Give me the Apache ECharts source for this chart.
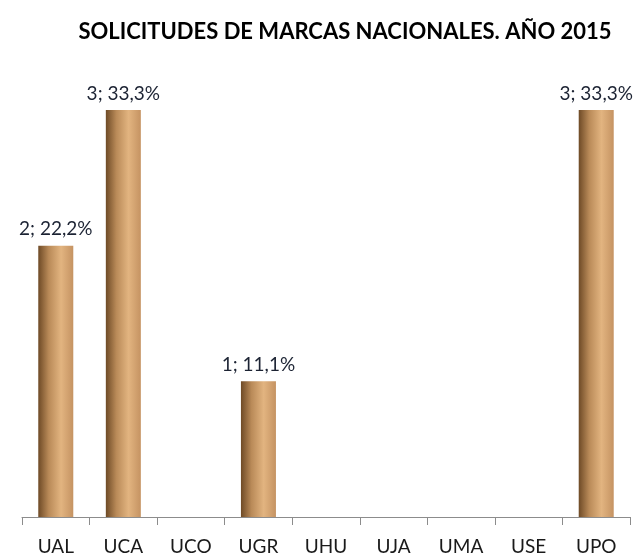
<!DOCTYPE html>
<html>
<head>
<meta charset="utf-8">
<script src="https://cdn.jsdelivr.net/npm/echarts@6/dist/echarts.min.js"></script>
<style>
    html, body { margin: 0; padding: 0; background: #fff; }
    #chart { width: 636px; height: 556px; }
</style>
</head>
<body>
<div id="chart"></div>
<script>
// universidades
const categories = ['UAL', 'UCA', 'UCO', 'UGR', 'UHU', 'UJA', 'UMA', 'USE', 'UPO']
// nº de solicitudes
const solicitudes = [2, 3, 0, 1, 0, 0, 0, 0, 3]
// porcentaje sobre el total
const porcentajes = ['22,2%', '33,3%', '', '11,1%', '', '', '', '', '33,3%']

const myChart = echarts.init(document.getElementById('chart'))

myChart.setOption({
    animation: false,
    title: {
        text: 'SOLICITUDES DE MARCAS NACIONALES. AÑO 2015',
        left: 340,
        textAlign: 'center',
        top: 16,
        textStyle: {
            fontFamily: 'Lato',
            fontWeight: 'bold',
            fontSize: 22,
            color: '#000'
        }
    },
    grid: {
        left: 22,
        right: 6,
        top: 110,
        bottom: 39
    },
    xAxis: {
        type: 'category',
        data: categories,
        axisLine: {
            lineStyle: { color: '#8c8c8c', width: 1 }
        },
        axisTick: {
            show: true,
            length: 8,
            lineStyle: { color: '#8c8c8c' }
        },
        axisLabel: {
            margin: 20,
            fontFamily: 'Lato',
            fontSize: 19,
            color: '#1a1a1a'
        }
    },
    yAxis: {
        type: 'value',
        min: 0,
        max: 3,
        show: false,
        splitLine: { show: false }
    },
    series: [{
        type: 'bar',
        data: solicitudes,
        barWidth: 35,
        itemStyle: {
            // efecto cilindro
            color: new echarts.graphic.LinearGradient(0, 0, 1, 0, [
                { offset: 0, color: '#6e4a26' },
                { offset: 0.3, color: '#b98a58' },
                { offset: 0.65, color: '#e2b480' },
                { offset: 1, color: '#c59362' }
            ])
        },
        label: {
            show: true,
            position: 'top',
            distance: 7,
            fontFamily: 'Lato',
            fontSize: 19,
            color: '#1c2333',
            formatter: (p) => p.value ? p.value + '; ' + porcentajes[p.dataIndex] : ''
        }
    }]
})
</script>
</body>
</html>
